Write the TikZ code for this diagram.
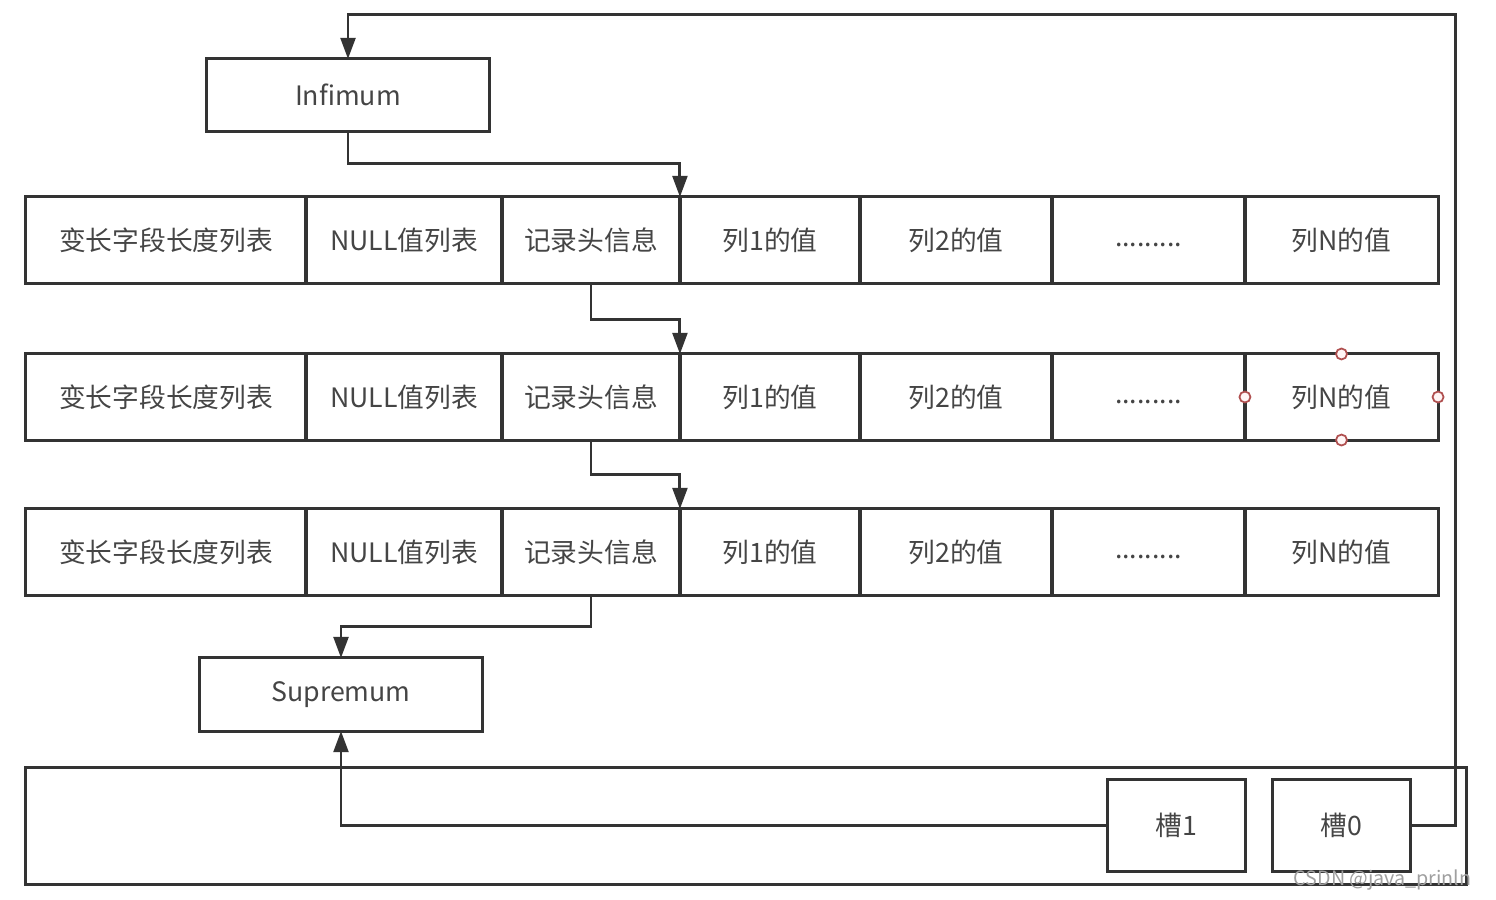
\documentclass[tikz,border=0pt]{standalone}
\usepackage{fontspec}
\setmainfont{Noto Sans CJK SC}
\usetikzlibrary{arrows.meta}
\definecolor{linegray}{HTML}{333333}
\definecolor{textgray}{HTML}{454545}
\definecolor{handlered}{HTML}{B05050}
\newcommand{\dotrow}{\raisebox{-0.06cm}[0pt][0pt]{.........}}
\tikzset{
  box/.style={draw=linegray, line width=0.85pt, inner sep=0pt, outer sep=0pt,
    text=textgray, font=\fontsize{7.6pt}{9pt}\selectfont, minimum height=0.86cm},
  arr/.style={draw=linegray, line width=0.85pt, -{Triangle[width=4.2pt,length=6pt]}},
  handle/.style={draw=handlered, fill=red!4, line width=0.5pt}
}
\begin{document}
\begin{tikzpicture}[x=0.01cm, y=-0.01cm]
      \useasboundingbox (0,0) rectangle (1496,899);
      % bottom container and slots
      \node[box, minimum width=14.40cm, minimum height=1.16cm] (dir) at (746,826) {};
      \node[box, minimum width=1.37cm, minimum height=0.91cm] (s1) at (1176.5,825.5) {槽1};
      \node[box, minimum width=1.37cm, minimum height=0.91cm] (s0) at (1341.5,825.5) {槽0};
      % min and max records
      \node[box, minimum width=2.82cm, minimum height=0.72cm] (inf) at (348,95) {Infimum};
      \node[box, minimum width=2.82cm, minimum height=0.73cm] (sup) at (341,694.5) {Supremum};
      % record 1
      \node[box, minimum width=2.80cm] (a1) at (166,240) {变长字段长度列表};
      \node[box, minimum width=1.96cm] (a2) at (404,240) {NULL值列表};
      \node[box, minimum width=1.78cm] (a3) at (591,240) {记录头信息};
      \node[box, minimum width=1.80cm] (a4) at (770,240) {列1的值};
      \node[box, minimum width=1.92cm] (a5) at (956,240) {列2的值};
      \node[box, minimum width=1.93cm] (a6) at (1148.5,240) {\dotrow};
      \node[box, minimum width=1.93cm] (a7) at (1341.5,240) {列N的值};
      % record 2
      \node[box, minimum width=2.80cm] (b1) at (166,397) {变长字段长度列表};
      \node[box, minimum width=1.96cm] (b2) at (404,397) {NULL值列表};
      \node[box, minimum width=1.78cm] (b3) at (591,397) {记录头信息};
      \node[box, minimum width=1.80cm] (b4) at (770,397) {列1的值};
      \node[box, minimum width=1.92cm] (b5) at (956,397) {列2的值};
      \node[box, minimum width=1.93cm] (b6) at (1148.5,397) {\dotrow};
      \node[box, minimum width=1.93cm] (b7) at (1341.5,397) {列N的值};
      % record 3
      \node[box, minimum width=2.80cm] (c1) at (166,552) {变长字段长度列表};
      \node[box, minimum width=1.96cm] (c2) at (404,552) {NULL值列表};
      \node[box, minimum width=1.78cm] (c3) at (591,552) {记录头信息};
      \node[box, minimum width=1.80cm] (c4) at (770,552) {列1的值};
      \node[box, minimum width=1.92cm] (c5) at (956,552) {列2的值};
      \node[box, minimum width=1.93cm] (c6) at (1148.5,552) {\dotrow};
      \node[box, minimum width=1.93cm] (c7) at (1341.5,552) {列N的值};
      \coordinate (top) at (1455,14);
      \begin{scope}[arr]
        \draw (s0.east) -| (top) -| (inf.north);
        \draw (inf.south) -- ++(0,32) -| (a4.north west);
        \draw (a3.south) -- ++(0,36) -| (b4.north west);
        \draw (b3.south) -- ++(0,34) -| (c4.north west);
        \draw (c3.south) -- ++(0,31) -| (sup.north);
        \draw (s1.west) -| (sup.south);
      \end{scope}
      % selection handles
      \foreach \a in {north,south,east,west}
        \draw[handle] (b7.\a) circle (0.055cm);
      \node[text=gray!75, font=\fontsize{5.6pt}{6pt}\selectfont, anchor=east] (mark) at (1484,880) {CSDN @java\_prinln};
    \end{tikzpicture}
\end{document}
